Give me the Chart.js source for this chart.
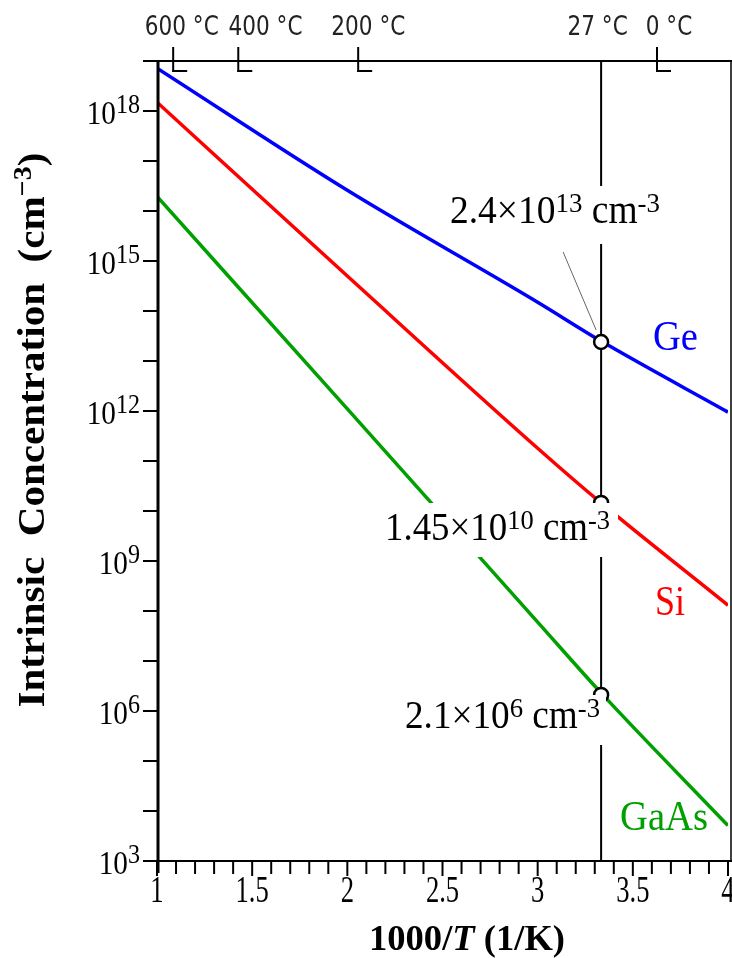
<!DOCTYPE html>
<html>
<head>
<meta charset="utf-8">
<script src="https://cdn.jsdelivr.net/npm/chart.js@4.4.0/dist/chart.umd.min.js"></script>
<style>
  body { margin: 0; background: #fff; }
  canvas { display: block; }
</style>
</head>
<body>
<canvas id="niChart" width="732" height="958"></canvas>
<script>
const invT = [1, 2, 3, 3.333, 4];
const geValues = [7.2e18, 2.6e16, 1.5e14, 2.5e13, 9.5e11];
const siValues = [1.5e18, 5.0e14, 1.8e11, 1.45e10, 1.3e8];
const gaasValues = [1.95e16, 1.1e12, 6.0e7, 2.3e6, 5.1e3];

// room temperature (300 K) points
const roomInvT = 1000 / 300;
const roomValues = [2.4e13, 1.45e10, 2.1e6];

const xTicks = [1, 1.5, 2, 2.5, 3, 3.5, 4];
const xTickLabels = ['1', '1.5', '2', '2.5', '3', '3.5', '4'];
const yTickExps = [3, 6, 9, 12, 15, 18];

// temperature scale along the top (positions in 1000/T as drawn in the figure)
const tempLabels = ['600 °C', '400 °C', '200 °C', '27 °C', '0 °C'];
const tempLabelAt = [1.13, 1.57, 2.11, 3.315, 3.69];
const tempTickAt = [1.085, 1.427, 2.057, 3.627];

const SERIF = '"Liberation Serif", "Times New Roman", serif';

function richWidth(ctx, parts) {
  let w = 0;
  parts.forEach(p => { ctx.font = p.font; w += ctx.measureText(p.t).width; });
  return w;
}

// draws text made of parts (for superscripts); squeezes it to a width if given
function drawRich(ctx, parts, x, y, opts) {
  const w = richWidth(ctx, parts);
  const sx = opts.width ? opts.width / w : (opts.sx || 1);
  ctx.save();
  ctx.translate(x, y);
  if (opts.rotate) ctx.rotate(opts.rotate);
  ctx.scale(sx, 1);
  let cx = opts.align === 'center' ? -w / 2 : opts.align === 'right' ? -w : 0;
  ctx.fillStyle = opts.color || '#000';
  ctx.textBaseline = 'alphabetic';
  ctx.textAlign = 'left';
  parts.forEach(p => {
    ctx.font = p.font;
    ctx.fillText(p.t, cx, -(p.dy || 0));
    cx += ctx.measureText(p.t).width;
  });
  ctx.restore();
}

function line(ctx, x1, y1, x2, y2, w, color) {
  ctx.beginPath();
  ctx.moveTo(x1, y1);
  ctx.lineTo(x2, y2);
  ctx.lineWidth = w;
  ctx.strokeStyle = color || '#000';
  ctx.stroke();
}

const figurePlugin = {
  id: 'figure',
  beforeDatasetsDraw(chart) {
    const ctx = chart.ctx, a = chart.chartArea;
    const xr = chart.scales.x.getPixelForValue(roomInvT);
    line(ctx, xr, a.top, xr, a.bottom, 2);
  },
  afterDatasetsDraw(chart) {
    const ctx = chart.ctx, a = chart.chartArea;
    const xs = chart.scales.x, ys = chart.scales.y;
    const xr = xs.getPixelForValue(roomInvT);

    // white boxes behind the value labels
    ctx.fillStyle = '#fff';
    ctx.fillRect(448, 186, 214, 44);
    ctx.fillRect(xr - 6, 186, 12, 58);
    ctx.fillRect(380, 503, 238, 54);
    ctx.fillRect(400, 695, 206, 50);

    // leader to Ge point
    const yg = ys.getPixelForValue(roomValues[0]);
    line(ctx, xr - 38, yg - 90, xr - 5, yg - 12, 1, '#666');

    const big = '39px ' + SERIF, sup = '28px ' + SERIF;
    drawRich(ctx, [{t: '2.4×10', font: big}, {t: '13', font: sup, dy: 11},
      {t: ' cm', font: big}, {t: '-3', font: sup, dy: 11}], 450, 223, {width: 210});
    drawRich(ctx, [{t: '1.45×10', font: big}, {t: '10', font: sup, dy: 11},
      {t: ' cm', font: big}, {t: '-3', font: sup, dy: 11}], 385, 540, {width: 225});
    drawRich(ctx, [{t: '2.1×10', font: big}, {t: '6', font: sup, dy: 11},
      {t: ' cm', font: big}, {t: '-3', font: sup, dy: 11}], 405, 728, {width: 195});

    // curve names
    const nameFont = '43px ' + SERIF;
    drawRich(ctx, [{t: 'Ge', font: nameFont}], 653, 350, {width: 45, color: '#0000ff'});
    drawRich(ctx, [{t: 'Si', font: nameFont}], 655, 615, {width: 30, color: '#ff0000'});
    drawRich(ctx, [{t: 'GaAs', font: nameFont}], 620, 830, {width: 88, color: '#00a000'});

    // frame
    line(ctx, 143, a.top, 732, a.top, 2);
    line(ctx, 143, a.bottom, 732, a.bottom, 2);
    line(ctx, a.left + 1, a.top - 1, a.left + 1, a.bottom + 12, 3);
    line(ctx, 731, a.top, 731, a.bottom, 1.5);

    // y ticks every decade
    for (let e = 3; e <= 18; e++) {
      const y = ys.getPixelForValue(Math.pow(10, e));
      line(ctx, 143, y, a.left, y, 2);
    }
    yTickExps.forEach(e => {
      const y = ys.getPixelForValue(Math.pow(10, e));
      drawRich(ctx, [{t: '10', font: '34px ' + SERIF}, {t: String(e), font: '28px ' + SERIF, dy: 11}],
        140, y + 13, {sx: 0.86, align: 'right'});
    });

    // x ticks every 0.1
    for (let i = 0; i <= 30; i++) {
      const v = 1 + i / 10;
      const x = xs.getPixelForValue(v);
      line(ctx, x, a.bottom, x, a.bottom + (i % 5 === 0 ? 15 : 13), 2);
    }
    xTicks.forEach((v, i) => {
      drawRich(ctx, [{t: xTickLabels[i], font: '38px ' + SERIF}], xs.getPixelForValue(v), 902,
        {sx: 0.7, align: 'center'});
    });

    // axis titles
    drawRich(ctx, [{t: '1000/', font: 'bold 36px ' + SERIF}, {t: 'T', font: 'italic bold 36px ' + SERIF},
      {t: ' (1/K)', font: 'bold 36px ' + SERIF}], 467, 950, {width: 196, align: 'center'});
    drawRich(ctx, [{t: 'Intrinsic  Concentration  (cm', font: 'bold 38px ' + SERIF},
      {t: '−3', font: 'bold 26px ' + SERIF, dy: 13}, {t: ')', font: 'bold 38px ' + SERIF}],
      44, 430, {width: 555, align: 'center', rotate: -Math.PI / 2});

    // temperature scale on top
    tempTickAt.forEach(v => {
      const x = xs.getPixelForValue(v);
      line(ctx, x, 47, x, 72, 2);
      line(ctx, x - 1, 71, x + 14, 71, 2);
    });
    tempLabels.forEach((s, i) => {
      drawRich(ctx, [{t: s, font: '27px "DejaVu Sans", sans-serif'}], xs.getPixelForValue(tempLabelAt[i]), 35,
        {sx: 0.8, align: 'center', color: '#222'});
    });
  }
};

new Chart(document.getElementById('niChart'), {
  type: 'line',
  data: {
    datasets: [
      {
        type: 'scatter', label: '300 K', order: 0,
        data: roomValues.map(v => ({x: roomInvT, y: v})),
        pointRadius: 7, pointBorderWidth: 2.5,
        borderColor: '#000', backgroundColor: '#fff', showLine: false
      },
      {
        label: 'Ge', order: 1,
        data: invT.map((x, i) => ({x: x, y: geValues[i]})),
        borderColor: '#0000ff', borderWidth: 3.5, pointRadius: 0, fill: false,
        cubicInterpolationMode: 'monotone'
      },
      {
        label: 'Si', order: 1,
        data: invT.map((x, i) => ({x: x, y: siValues[i]})),
        borderColor: '#ff0000', borderWidth: 3.5, pointRadius: 0, fill: false,
        cubicInterpolationMode: 'monotone'
      },
      {
        label: 'GaAs', order: 1,
        data: invT.map((x, i) => ({x: x, y: gaasValues[i]})),
        borderColor: '#00a000', borderWidth: 3.5, pointRadius: 0, fill: false,
        cubicInterpolationMode: 'monotone'
      }
    ]
  },
  options: {
    responsive: false,
    animation: false,
    devicePixelRatio: 1,
    layout: { autoPadding: false, padding: { left: 157, right: 4, top: 61, bottom: 97 } },
    plugins: { legend: { display: false }, tooltip: { enabled: false } },
    scales: {
      x: { type: 'linear', min: 1, max: 4, display: false },
      y: { type: 'logarithmic', min: 1e3, max: 1e19, display: false }
    }
  },
  plugins: [figurePlugin]
});
</script>
</body>
</html>
